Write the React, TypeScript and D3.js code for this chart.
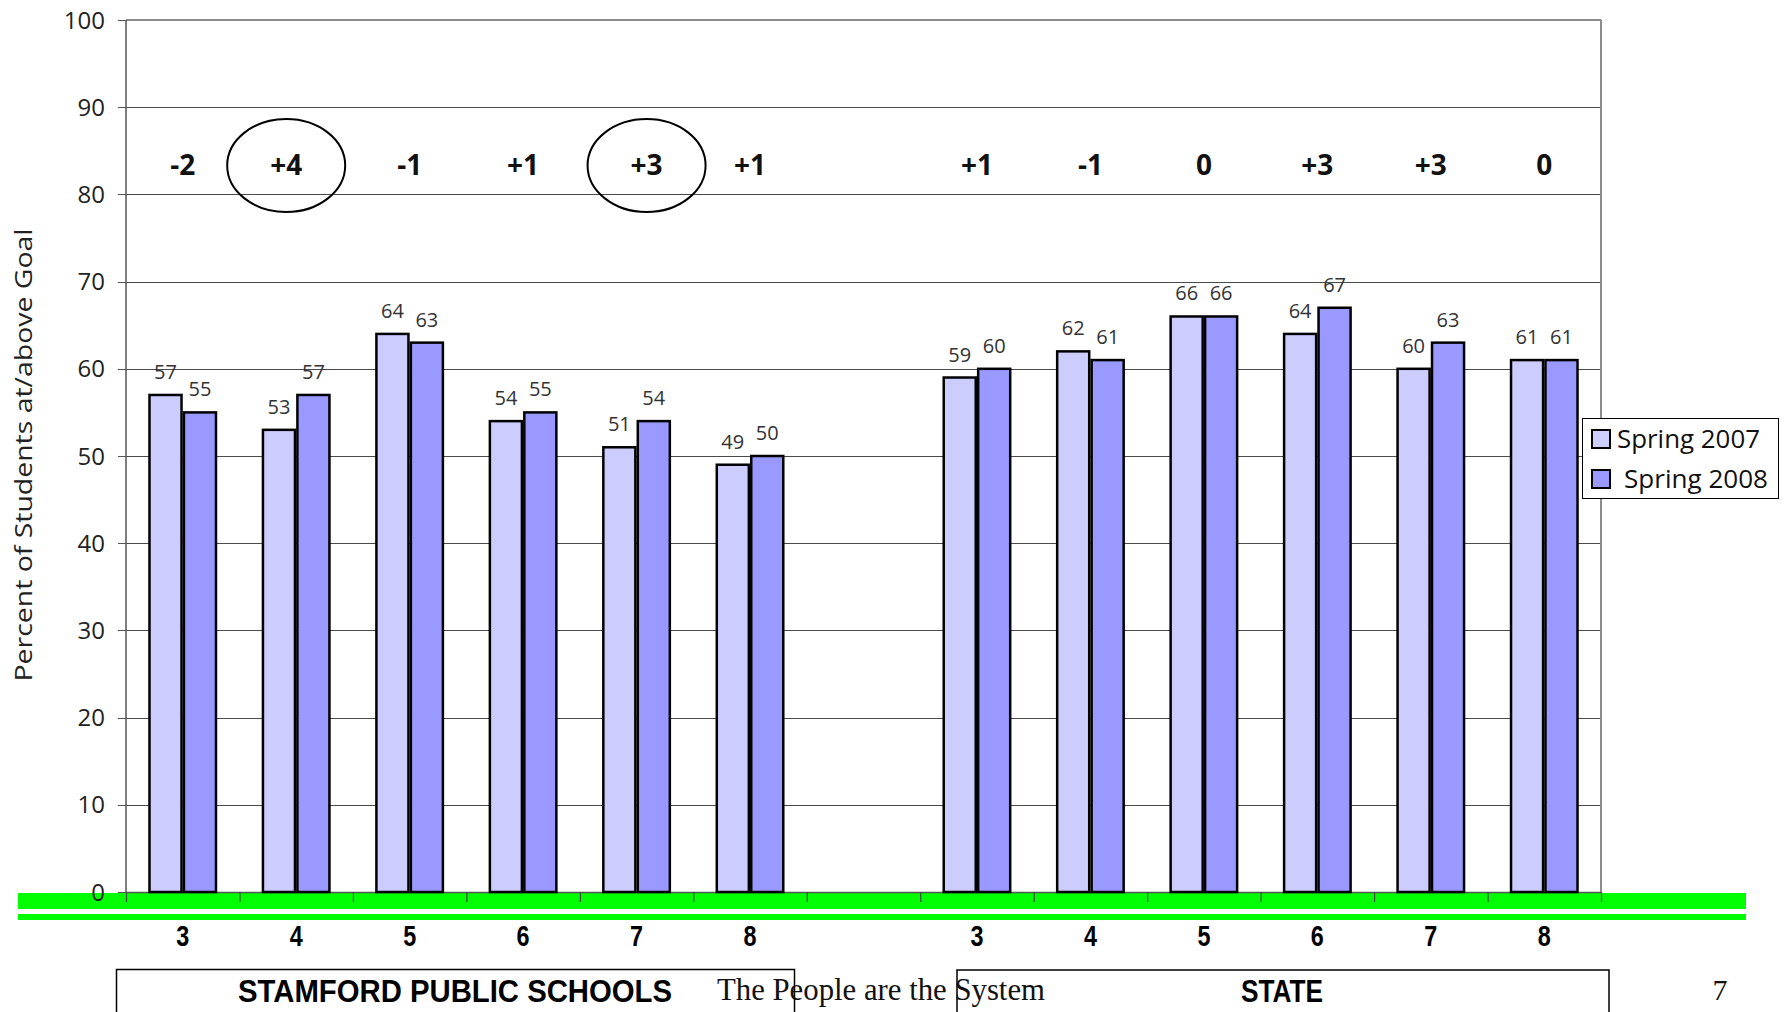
import React from "react";
import * as d3 from "d3";

const grades = ["3", "4", "5", "6", "7", "8"];
const stamford2007 = [57, 53, 64, 54, 51, 49];
const stamford2008 = [55, 57, 63, 55, 54, 50];
const state2007 = [59, 62, 66, 64, 60, 61];
const state2008 = [60, 61, 66, 67, 63, 61];
const circledGrades = ["4", "7"]; // Stamford grades highlighted
const seriesNames = ["Spring 2007", "Spring 2008"];
const yTicks = [0, 10, 20, 30, 40, 50, 60, 70, 80, 90, 100];
const groupNames = ["STAMFORD PUBLIC SCHOOLS", "STATE"];
const footerText = "The People are the System";
const pageNumber = "7";

const W = 1788;
const H = 1012;
const COLORS = ["#CCCCFF", "#9999FF"];

export default function App() {
  const cats: any[] = [];
  grades.forEach((g, i) => cats.push({ key: "S" + g, group: 0, grade: g, v: [stamford2007[i], stamford2008[i]] }));
  cats.push({ key: "gap", group: -1 });
  grades.forEach((g, i) => cats.push({ key: "T" + g, group: 1, grade: g, v: [state2007[i], state2008[i]] }));

  const left = 126, right = 1601, top = 20, bottom = 892;
  const x = d3.scaleBand<string>().domain(cats.map((c) => c.key)).range([left, right]).paddingInner(0).paddingOuter(0);
  const bw = x.bandwidth();
  const inner = d3.scaleBand<string>().domain(["0", "1"]).range([bw * 0.207, bw * 0.793]).paddingInner(0.07);
  const y = d3.scaleLinear().domain([0, 100]).range([bottom, top]);

  const tickXs = cats.map((c) => x(c.key) as number).concat([right]);
  const sans = "'Open Sans', 'DejaVu Sans', sans-serif";
  const narrow = "'Liberation Sans Narrow', 'Liberation Sans', 'DejaVu Sans', sans-serif";

  const diffY = 175;
  const ellipseY = 165.5;
  const bars = cats.filter((c) => c.group >= 0);

  return (
    <svg width={W} height={H} style={{ position: "absolute", left: 0, top: 0, background: "#fff" }}>
      <rect x={0} y={0} width={W} height={H} fill="#fff" />
      {yTicks.filter((t) => t > 0 && t < 100).map((t) => (
        <line key={"g" + t} x1={left} x2={right} y1={Math.round(y(t)) + 0.5} y2={Math.round(y(t)) + 0.5} stroke="#4a4a4a" strokeWidth={1} />
      ))}
      <line x1={left} x2={right} y1={top} y2={top} stroke="#8c8c8c" strokeWidth={2} />
      <line x1={right} x2={right} y1={top} y2={bottom} stroke="#8c8c8c" strokeWidth={2} />
      <rect x={18} y={893} width={1728} height={16} fill="#00FF00" />
      <rect x={18} y={914} width={1728} height={6} fill="#00FF00" />
      <line x1={left} x2={left} y1={top} y2={bottom} stroke="#555" strokeWidth={1.5} />
      {yTicks.map((t) => (
        <g key={"t" + t}>
          <line x1={118} x2={left} y1={Math.round(y(t)) + 0.5} y2={Math.round(y(t)) + 0.5} stroke="#555" strokeWidth={1} />
          <text x={105} y={y(t) + 8.5} textAnchor="end" fontFamily={sans} fontSize={24} fill="#222">{t}</text>
        </g>
      ))}
      <line x1={left} x2={right} y1={bottom + 0.5} y2={bottom + 0.5} stroke="#555" strokeWidth={1.5} />
      {tickXs.map((tx, i) => (
        <line key={"xt" + i} x1={tx + 0.5} x2={tx + 0.5} y1={bottom} y2={902} stroke="#444" strokeWidth={1.2} />
      ))}
      {bars.map((c) => (
        <g key={c.key} transform={`translate(${x(c.key)},0)`}>
          {c.v.map((v: number, si: number) => {
            const bx = inner(String(si)) as number;
            return (
              <g key={si}>
                <rect x={bx} y={y(v)} width={inner.bandwidth()} height={bottom - y(v)} fill={COLORS[si]} stroke="#000" strokeWidth={2.5} />
                <text x={bx + inner.bandwidth() / 2} y={y(v) - 16} textAnchor="middle" fontFamily={sans} fontSize={20} fill="#333">{v}</text>
              </g>
            );
          })}
        </g>
      ))}
      {bars.map((c) => {
        const d = c.v[1] - c.v[0];
        const label = d > 0 ? "+" + d : String(d);
        const cx = (x(c.key) as number) + bw / 2;
        const circled = c.group === 0 && circledGrades.includes(c.grade);
        const lx = circled ? cx - 10 * (c.grade === "4" ? 1 : -1) : cx;
        return (
          <g key={"d" + c.key}>
            {circled && <ellipse cx={lx} cy={ellipseY} rx={59} ry={46.5} fill="none" stroke="#000" strokeWidth={2} />}
            <text x={lx} y={diffY} textAnchor="middle" fontFamily={sans} fontWeight={700} fontSize={28} fill="#111">{label}</text>
          </g>
        );
      })}
      {bars.map((c) => (
        <text key={"c" + c.key} x={(x(c.key) as number) + bw / 2} y={946} textAnchor="middle" fontFamily={narrow} fontWeight={700} fontSize={29} fill="#000" textLength={13} lengthAdjust="spacingAndGlyphs">{c.grade}</text>
      ))}
      <text transform={`translate(32, 455) rotate(-90)`} textAnchor="middle" fontFamily={sans} fontSize={24} fill="#222" textLength={453} lengthAdjust="spacingAndGlyphs">Percent of Students at/above Goal</text>
      <rect x={1582.5} y={418.5} width={196} height={80} fill="#fff" stroke="#000" strokeWidth={1} />
      {seriesNames.map((s, i) => (
        <g key={s}>
          <rect x={1592} y={430 + i * 40} width={18} height={18} fill={COLORS[i]} stroke="#000" strokeWidth={2} />
          <text x={i === 0 ? 1617 : 1624} y={448 + i * 40} fontFamily={sans} fontSize={26} fill="#111" textLength={i === 0 ? 143 : 144} lengthAdjust="spacingAndGlyphs">{s}</text>
        </g>
      ))}
      <rect x={116.5} y={969.5} width={678} height={60} fill="none" stroke="#000" strokeWidth={1.5} />
      <rect x={957} y={970} width={652} height={60} fill="none" stroke="#000" strokeWidth={1.5} />
      <text x={455} y={1002} textAnchor="middle" fontFamily={narrow} fontWeight={700} fontSize={31} fill="#000" textLength={434} lengthAdjust="spacingAndGlyphs">{groupNames[0]}</text>
      <text x={1282} y={1002} textAnchor="middle" fontFamily={narrow} fontWeight={700} fontSize={31} fill="#000" textLength={82} lengthAdjust="spacingAndGlyphs">{groupNames[1]}</text>
      <text x={717} y={1000} fontFamily="'Liberation Serif', 'Times New Roman', serif" fontSize={30.5} fill="#111" textLength={328} lengthAdjust="spacingAndGlyphs">{footerText}</text>
      <text x={1720} y={1000} textAnchor="middle" fontFamily="'Liberation Serif', 'Times New Roman', serif" fontSize={30} fill="#111">{pageNumber}</text>
    </svg>
  );
}
